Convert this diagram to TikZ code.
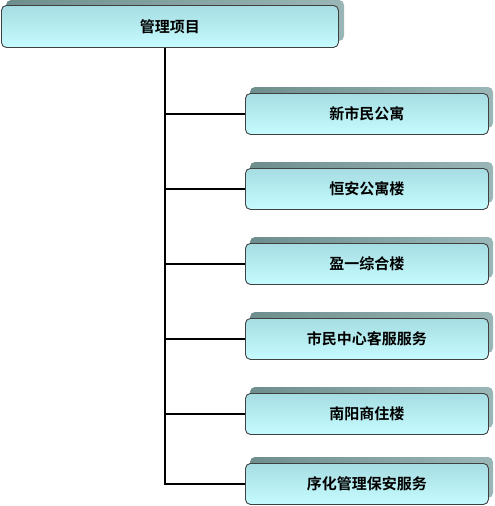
\documentclass[tikz,border=0pt]{standalone}
\usepackage{fontspec}
\newfontfamily\cjk{Noto Sans CJK SC}[BoldFont={Noto Sans CJK SC Bold}]
\definecolor{fronttop}{HTML}{A6DDE2}
\definecolor{frontbot}{HTML}{C6FCFF}
\definecolor{backdark}{HTML}{6E8E8E}
\definecolor{backlite}{HTML}{9AB6B6}
\begin{document}
\begin{tikzpicture}[x=1pt,y=-1pt,
  frontbox/.style={draw=black!75, line width=0.9pt, rounded corners=5pt,
    top color=fronttop, bottom color=frontbot,
    minimum width=243pt, minimum height=41pt, inner sep=0pt,
    font=\cjk\bfseries\fontsize{15}{18}\selectfont, text=black},
  backbox/.style={left color=backdark, right color=backlite, rounded corners=5pt, draw=none},
  conn/.style={line width=2.8pt, black}]
\useasboundingbox (0,0) rectangle (495,506);
% top box
\shade[backbox] (6,0) rectangle (344,41);
\node[frontbox, minimum width=337pt, minimum height=42pt, anchor=north west] (root) at (1,5) {管理项目};
% children
\foreach \n/\y/\t in {a/93/新市民公寓, b/168/恒安公寓楼, c/243/盈一综合楼, d/318/市民中心客服服务, e/393/南阳商住楼, f/463/序化管理保安服务}{
  \shade[backbox] (250,\y-6) rectangle (493,\y+35);
  \node[frontbox, anchor=north west] (\n) at (245,\y) {\t};
}
\coordinate (trunk) at (165,0);
\draw[conn] (root.south -| trunk) -- (trunk |- f.west) -- (f.west);
\foreach \n in {a,b,c,d,e}{
  \draw[conn] (trunk |- \n.west) -- (\n.west);
}
\end{tikzpicture}
\end{document}
